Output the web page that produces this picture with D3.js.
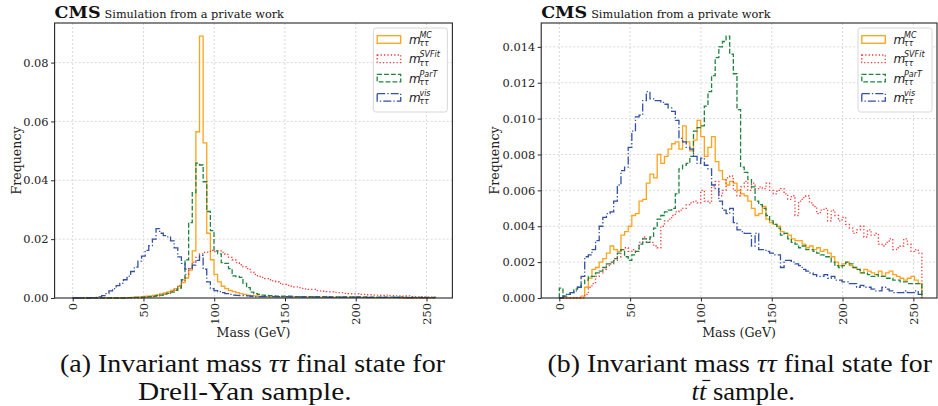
<!DOCTYPE html>
<html>
<head>
<meta charset="utf-8">
<script src="https://cdn.jsdelivr.net/npm/d3@7"></script>
<style>
  body { margin: 0; background: #fff; }
  svg { display: block; }
</style>
</head>
<body>
<div id="chart"></div>
<script>
// 100 bins of 2.56 GeV between 0 and 256 GeV
const binEdges = d3.range(101).map(i => i * 2.56);
const massTicks = [0, 50, 100, 150, 200, 250];
const dyFreqTicks = [0, 0.02, 0.04, 0.06, 0.08];
const ttFreqTicks = [0, 0.002, 0.004, 0.006, 0.008, 0.010, 0.012, 0.014];

const seriesNames = ['MC', 'SVFit', 'ParT', 'vis'];

// Drell-Yan sample
const dyMC = [
  0, 0, 0, 0, 0, 0, 0, 0, 0, 0,
  0, 0, 0, 0, 0, 0.0001, 0.0002, 0.0003, 0.0004, 0.0005,
  0.0006, 0.0007, 0.0009, 0.0011, 0.0014, 0.0017, 0.0021, 0.0026, 0.0032, 0.0040,
  0.0052, 0.0068, 0.0095, 0.0160, 0.0565, 0.0890, 0.0527, 0.0220, 0.0130, 0.0080,
  0.0055, 0.0040, 0.0032, 0.0026, 0.0022, 0.0018, 0.0015, 0.0012, 0.0010, 0.0008,
  0.0007, 0.0006, 0.0005, 0.0005, 0.0004, 0.0004, 0.0003, 0.0003, 0.0003, 0.0003,
  0.0003, 0.0003, 0.0003, 0.0003, 0.0003, 0.0003, 0.0002, 0.0002, 0.0002, 0.0002,
  0.0002, 0.0002, 0.0002, 0.0002, 0.0002, 0.0002, 0.0002, 0.0002, 0.0002, 0.0002,
  0.0002, 0.0001, 0.0001, 0.0001, 0.0001, 0.0001, 0.0001, 0.0001, 0.0001, 0.0001,
  0.0001, 0, 0, 0, 0, 0, 0, 0, 0, 0
];
const dySVFit = [
  0, 0, 0, 0, 0, 0, 0, 0, 0, 0,
  0, 0, 0, 0, 0, 0, 0, 0, 0, 0.0002,
  0.0003, 0.0004, 0.0005, 0.0007, 0.0009, 0.0012, 0.0016, 0.0022, 0.0030, 0.0042,
  0.0058, 0.0080, 0.0100, 0.0122, 0.0138, 0.0150, 0.0155, 0.0156, 0.0162, 0.0158,
  0.0160, 0.0155, 0.0148, 0.0138, 0.0130, 0.0120, 0.0113, 0.0106, 0.0100, 0.0088,
  0.0080, 0.0073, 0.0070, 0.0066, 0.0062, 0.0058, 0.0055, 0.0050, 0.0046, 0.0043,
  0.0040, 0.0038, 0.0035, 0.0033, 0.0031, 0.0029, 0.0029, 0.0025, 0.0024, 0.0023,
  0.0022, 0.0021, 0.0019, 0.0018, 0.0018, 0.0016, 0.0015, 0.0014, 0.0014, 0.0012,
  0.0012, 0.0011, 0.0011, 0.0010, 0.0010, 0.0009, 0.0010, 0.0008, 0.0008, 0.0007,
  0.0007, 0.0006, 0.0007, 0.0005, 0.0005, 0.0004, 0.0005, 0.0004, 0.0003, 0.0003
];
const dyParT = [
  0, 0, 0, 0, 0, 0, 0, 0, 0, 0,
  0, 0, 0, 0, 0, 0.0001, 0.0001, 0.0002, 0.0002, 0.0003,
  0.0004, 0.0005, 0.0006, 0.0008, 0.0010, 0.0013, 0.0016, 0.0020, 0.0026, 0.0034,
  0.0062, 0.0130, 0.0256, 0.0358, 0.0458, 0.0452, 0.0395, 0.0294, 0.0229, 0.0160,
  0.0150, 0.0120, 0.0118, 0.0100, 0.0075, 0.0073, 0.0070, 0.0050, 0.0035, 0.0020,
  0.0015, 0.0012, 0.0010, 0.0009, 0.0008, 0.0007, 0.0006, 0.0006, 0.0006, 0.0006,
  0.0006, 0.0005, 0.0005, 0.0005, 0.0005, 0.0005, 0.0005, 0.0005, 0.0005, 0.0005,
  0.0005, 0.0004, 0.0004, 0.0004, 0.0004, 0.0004, 0.0004, 0.0004, 0.0004, 0.0004,
  0.0004, 0.0003, 0.0003, 0.0003, 0.0003, 0.0003, 0.0003, 0.0003, 0.0003, 0.0003,
  0.0003, 0.0002, 0.0002, 0.0002, 0.0002, 0.0002, 0.0002, 0.0002, 0.0002, 0.0002
];
const dyVis = [
  0, 0, 0, 0, 0, 0.0001, 0.0002, 0.0004, 0.0008, 0.0015,
  0.0024, 0.0032, 0.0042, 0.0050, 0.0062, 0.0074, 0.0090, 0.0105, 0.0125, 0.0142,
  0.0162, 0.0178, 0.0200, 0.0236, 0.0220, 0.0212, 0.0208, 0.0194, 0.0170, 0.0140,
  0.0118, 0.0098, 0.0100, 0.0112, 0.0128, 0.0145, 0.0098, 0.0055, 0.0032, 0.0025,
  0.0022, 0.0018, 0.0015, 0.0012, 0.0010, 0.0009, 0.0008, 0.0008, 0.0007, 0.0006,
  0.0005, 0.0005, 0.0005, 0.0005, 0.0005, 0.0005, 0.0005, 0.0005, 0.0005, 0.0005,
  0.0004, 0.0004, 0.0004, 0.0004, 0.0004, 0.0004, 0.0004, 0.0004, 0.0004, 0.0004,
  0.0003, 0.0003, 0.0003, 0.0003, 0.0003, 0.0003, 0.0003, 0.0003, 0.0003, 0.0003,
  0.0002, 0.0002, 0.0002, 0.0002, 0.0002, 0.0002, 0.0002, 0.0002, 0.0002, 0.0002,
  0.0001, 0.0001, 0.0001, 0.0001, 0.0001, 0.0001, 0.0001, 0.0001, 0.0001, 0.0001
];

// ttbar sample
const ttMC = [
  0, 0, 0, 0, 0, 0, 0.0001, 0.0006, 0.0011, 0.0016,
  0.0017, 0.0020, 0.0022, 0.0025, 0.0029, 0.0027, 0.0026, 0.0035, 0.0037, 0.0040,
  0.0046, 0.0047, 0.0054, 0.0055, 0.0064, 0.0069, 0.0067, 0.0080, 0.0075, 0.0079,
  0.0083, 0.0086, 0.0087, 0.0083, 0.0096, 0.0087, 0.0082, 0.0088, 0.0099, 0.0090,
  0.0079, 0.0084, 0.0090, 0.0076, 0.0071, 0.0066, 0.0063, 0.0065, 0.0064, 0.0060,
  0.0058, 0.0057, 0.0054, 0.0050, 0.0046, 0.0047, 0.0051, 0.0044, 0.0042, 0.0041,
  0.0040, 0.0037, 0.0036, 0.0035, 0.0033, 0.0032, 0.0032, 0.0030, 0.0028, 0.0029,
  0.0027, 0.0028, 0.0026, 0.0027, 0.0025, 0.0023, 0.0020, 0.0018, 0.0019, 0.0020,
  0.0018, 0.0017, 0.0016, 0.0014, 0.0016, 0.0015, 0.0014, 0.0013, 0.0015, 0.0012,
  0.0014, 0.0015, 0.0013, 0.0012, 0.0011, 0.0010, 0.0011, 0.0012, 0.0010, 0.0008
];
const ttSVFit = [
  0, 0, 0, 0, 0, 0, 0, 0.0002, 0.0006, 0.0008,
  0.0012, 0.0014, 0.0016, 0.0018, 0.0019, 0.0021, 0.0023, 0.0027, 0.0028, 0.0026,
  0.0027, 0.0026, 0.0031, 0.0034, 0.0033, 0.0031, 0.0029, 0.0028, 0.0040, 0.0043,
  0.0044, 0.0046, 0.0048, 0.0049, 0.0050, 0.0052, 0.0053, 0.0054, 0.0053, 0.0060,
  0.0054, 0.0053, 0.0062, 0.0065, 0.0057, 0.0060, 0.0067, 0.0068, 0.0060, 0.0057,
  0.0062, 0.0065, 0.0060, 0.0064, 0.0061, 0.0062, 0.0061, 0.0064, 0.0060, 0.0058,
  0.0060, 0.0061, 0.0058, 0.0055, 0.0057, 0.0046, 0.0054, 0.0056, 0.0057, 0.0053,
  0.0051, 0.0047, 0.0049, 0.0050, 0.0043, 0.0049, 0.0046, 0.0043, 0.0045, 0.0041,
  0.0039, 0.0036, 0.0038, 0.0040, 0.0034, 0.0038, 0.0035, 0.0036, 0.0030, 0.0029,
  0.0031, 0.0033, 0.0027, 0.0028, 0.0029, 0.0033, 0.0030, 0.0026, 0.0027, 0.0025
];
const ttParT = [
  0.00055, 0.0001, 0.0002, 0.0003, 0.0005, 0.0006, 0.0008, 0.0010, 0.0012, 0.0012,
  0.0014, 0.0015, 0.0017, 0.0019, 0.0020, 0.0022, 0.0025, 0.0027, 0.0023, 0.0021,
  0.0024, 0.0026, 0.0030, 0.0033, 0.0031, 0.0034, 0.0039, 0.0044, 0.0046, 0.0048,
  0.0049, 0.0050, 0.0058, 0.0072, 0.0074, 0.0075, 0.0079, 0.0093, 0.0095, 0.0096,
  0.0107, 0.0115, 0.0124, 0.0134, 0.0140, 0.0143, 0.0146, 0.0136, 0.0125, 0.0105,
  0.0073, 0.0070, 0.0066, 0.0062, 0.0054, 0.0052, 0.0050, 0.0046, 0.0043, 0.0041,
  0.0039, 0.0035, 0.0036, 0.0033, 0.0031, 0.0030, 0.0028, 0.0029, 0.0027, 0.0027,
  0.0026, 0.0025, 0.0024, 0.0023, 0.0023, 0.0020, 0.0018, 0.0017, 0.0018, 0.0020,
  0.0019, 0.0017, 0.0016, 0.0014, 0.0014, 0.0013, 0.0012, 0.0013, 0.0012, 0.0012,
  0.0011, 0.0011, 0.0010, 0.0010, 0.0009, 0.0009, 0.0008, 0.0008, 0.0008, 0.0008
];
const ttVis = [
  0, 0.0001, 0.0002, 0.0003, 0.0004, 0.0006, 0.0012, 0.0023, 0.0024, 0.0027,
  0.0032, 0.0040, 0.0045, 0.0047, 0.0048, 0.0054, 0.0063, 0.0071, 0.0073, 0.0084,
  0.0093, 0.0101, 0.0102, 0.0110, 0.0115, 0.0111, 0.0110, 0.0110, 0.0109, 0.0108,
  0.0106, 0.0104, 0.0099, 0.0089, 0.0087, 0.0084, 0.0083, 0.0079, 0.0075, 0.0078,
  0.0074, 0.0072, 0.0063, 0.0061, 0.0054, 0.0049, 0.0047, 0.0050, 0.0042, 0.0038,
  0.0037, 0.0036, 0.0036, 0.0029, 0.0036, 0.0027, 0.0027, 0.0026, 0.0025, 0.0024,
  0.0024, 0.0017, 0.0021, 0.0021, 0.0020, 0.0019, 0.0018, 0.0016, 0.0015, 0.0014,
  0.0013, 0.0012, 0.0012, 0.0013, 0.0011, 0.0012, 0.0010, 0.0010, 0.0009, 0.0009,
  0.0008, 0.0008, 0.0006, 0.0007, 0.0006, 0.0006, 0.0005, 0.0004, 0.0004, 0.0006,
  0.0005, 0.0004, 0.0003, 0.0003, 0.0003, 0.0004, 0.0003, 0.0003, 0.0004, 0.0002
];

const width = 938, height = 406;
const serif = "'DejaVu Serif', serif";

// one style per series, drawn in this order (MC first)
const styles = [
  { color: '#ffa31a', dash: null },
  { color: '#f03c3c', dash: '1.3,2.1' },
  { color: '#1f8440', dash: '4.8,2.1' },
  { color: '#3150a6', dash: '8,2.1,1.3,2.1' }
];

const panels = [
  {
    left: 54.6, right: 452.4, xDomain: [-12.8, 268.3],
    yTicks: dyFreqTicks, yFormat: d3.format('.2f'),
    series: [dyMC, dySVFit, dyParT, dyVis],
    ylabelX: 20.5,
    caption: [
      { parts: [['(a) Invariant mass ', false], ['ττ', true], [' final state for', false]], x0: 60, x1: 445, y: 372 },
      { parts: [['Drell-Yan sample.', false]], x0: 138, x1: 351.5, y: 400 }
    ]
  },
  {
    left: 541.2, right: 937, xDomain: [-12.8, 266.7],
    yTicks: ttFreqTicks, yFormat: d3.format('.3f'),
    series: [ttMC, ttSVFit, ttParT, ttVis],
    ylabelX: 498.5,
    caption: [
      { parts: [['(b) Invariant mass ', false], ['ττ', true], [' final state for', false]], x0: 547.5, x1: 932, y: 372 },
      { parts: [['tt', 'bar'], [' sample.', false]], x0: 691.5, x1: 795, y: 400 }
    ]
  }
];

const plotTop = 23, plotBottom = 298;

const svg = d3.select('#chart').append('svg')
  .attr('width', width)
  .attr('height', height)
  .style('font-family', serif);

panels.forEach(p => drawPanel(p));

function drawPanel(p){
  const x = d3.scaleLinear().domain(p.xDomain).range([p.left, p.right]);
  const yMax = d3.max(p.series, s => d3.max(s)) * 1.05;
  const y = d3.scaleLinear().domain([0, yMax]).range([plotBottom, plotTop]);

  const g = svg.append('g');

  // grid
  g.append('g')
    .selectAll('line')
    .data(massTicks)
    .join('line')
    .attr('x1', d => x(d)).attr('x2', d => x(d))
    .attr('y1', plotTop).attr('y2', plotBottom)
    .attr('stroke', '#cfcfcf').attr('stroke-width', 0.8)
    .attr('stroke-dasharray', '2,2');
  g.append('g')
    .selectAll('line')
    .data(p.yTicks.filter(d => d > 0))
    .join('line')
    .attr('x1', p.left).attr('x2', p.right)
    .attr('y1', d => y(d)).attr('y2', d => y(d))
    .attr('stroke', '#cfcfcf').attr('stroke-width', 0.8)
    .attr('stroke-dasharray', '2,2');

  // step histograms
  const line = d3.line()
    .x(d => x(d[0]))
    .y(d => y(d[1]))
    .curve(d3.curveStepAfter);

  p.series.forEach((vals, i) => {
    const pts = [[binEdges[0], 0]];
    vals.forEach((v, j) => pts.push([binEdges[j], v]));
    pts.push([binEdges[vals.length], vals[vals.length - 1]]);
    pts.push([binEdges[vals.length], 0]);
    g.append('path')
      .attr('d', line(pts))
      .attr('fill', 'none')
      .attr('stroke', styles[i].color)
      .attr('stroke-width', 1.3)
      .attr('stroke-dasharray', styles[i].dash);
  });

  // frame
  g.append('rect')
    .attr('x', p.left).attr('y', plotTop)
    .attr('width', p.right - p.left).attr('height', plotBottom - plotTop)
    .attr('fill', 'none').attr('stroke', '#262626').attr('stroke-width', 1.1);

  // y axis
  const yAxis = d3.axisLeft(y).tickValues(p.yTicks).tickFormat(p.yFormat)
    .tickSize(3.5).tickPadding(2.5);
  g.append('g')
    .attr('transform', `translate(${p.left},0)`)
    .call(yAxis)
    .call(a => a.select('.domain').remove())
    .call(a => a.selectAll('line').attr('stroke', '#262626'))
    .call(a => a.selectAll('text')
      .attr('font-family', serif).attr('font-size', 11.4).attr('fill', '#222'));

  // x axis with rotated labels
  const xAxis = d3.axisBottom(x).tickValues(massTicks).tickSize(3.5).tickFormat(d3.format('d'));
  g.append('g')
    .attr('transform', `translate(0,${plotBottom})`)
    .call(xAxis)
    .call(a => a.select('.domain').remove())
    .call(a => a.selectAll('line').attr('stroke', '#262626'))
    .call(a => a.selectAll('text')
      .attr('font-family', serif).attr('font-size', 11.4).attr('fill', '#222')
      .attr('y', 0).attr('dy', null)
      .attr('text-anchor', 'end')
      .attr('dominant-baseline', 'central')
      .attr('transform', 'translate(0,5) rotate(-90)'));

  // axis titles
  g.append('text')
    .attr('x', (p.left + p.right) / 2).attr('y', 337)
    .attr('text-anchor', 'middle')
    .attr('font-size', 12.6).attr('fill', '#222')
    .text('Mass (GeV)');
  g.append('text')
    .attr('transform', `translate(${p.ylabelX},${(plotTop + plotBottom) / 2}) rotate(-90)`)
    .attr('text-anchor', 'middle')
    .attr('font-size', 12.6).attr('fill', '#222')
    .text('Frequency');

  // CMS label
  const cms = g.append('text').attr('x', p.left).attr('y', 18).attr('fill', '#111');
  cms.append('tspan').attr('font-weight', 'bold').attr('font-size', 17.5).text('CMS');
  cms.append('tspan').attr('dx', 4).attr('font-size', 11.3).text('Simulation from a private work');

  // legend
  const legW = 74, legH = 84;
  const lx = p.right - 5 - legW, ly = plotTop + 5;
  const leg = g.append('g').attr('transform', `translate(${lx},${ly})`);
  leg.append('rect')
    .attr('width', legW).attr('height', legH).attr('rx', 2.5)
    .attr('fill', 'rgba(255,255,255,0.85)')
    .attr('stroke', '#d4d4d4').attr('stroke-width', 0.9);
  seriesNames.forEach((name, i) => {
    const cy = 11.5 + i * 19.3;
    const row = leg.append('g');
    row.append('rect')
      .attr('x', 3.8).attr('y', cy - 3.8)
      .attr('width', 23.5).attr('height', 7.6)
      .attr('fill', 'none')
      .attr('stroke', styles[i].color).attr('stroke-width', 1.3)
      .attr('stroke-dasharray', styles[i].dash);
    const t = row.append('g').attr('font-family', "'DejaVu Sans', sans-serif")
      .attr('font-style', 'italic').attr('fill', '#222');
    t.append('text').attr('x', 35.5).attr('y', cy + 4.5).attr('font-size', 12).text('m');
    t.append('text').attr('x', 46).attr('y', cy - 1.5).attr('font-size', 8).text(name);
    t.append('text').attr('x', 45.8).attr('y', cy + 6.8).attr('font-size', 8).text('ττ');
  });

  // caption below the panel
  p.caption.forEach(c => {
    const t = svg.append('text')
      .attr('x', c.x0).attr('y', c.y)
      .attr('font-family', "'Liberation Serif', 'Times New Roman', serif")
      .attr('font-size', 25).attr('fill', '#111');
    c.parts.forEach(([s, style]) => {
      const ts = t.append('tspan').text(s);
      if (style === true || style === 'bar') ts.attr('font-style', 'italic');
    });
    // stretch line to the measured width of the original caption
    t.attr('textLength', c.x1 - c.x0).attr('lengthAdjust', 'spacingAndGlyphs');
    // overline on the second t of "tt"
    c.parts.forEach(([s, style]) => {
      if (style !== 'bar') return;
      const node = t.node();
      const x0 = node.getStartPositionOfChar(1).x;
      const x1 = node.getEndPositionOfChar(1).x;
      svg.append('line')
        .attr('x1', x0 + 3.5).attr('x2', x1 + 4)
        .attr('y1', c.y - 19.5).attr('y2', c.y - 19.5)
        .attr('stroke', '#111').attr('stroke-width', 1.2);
    });
  });
}
</script>
</body>
</html>
